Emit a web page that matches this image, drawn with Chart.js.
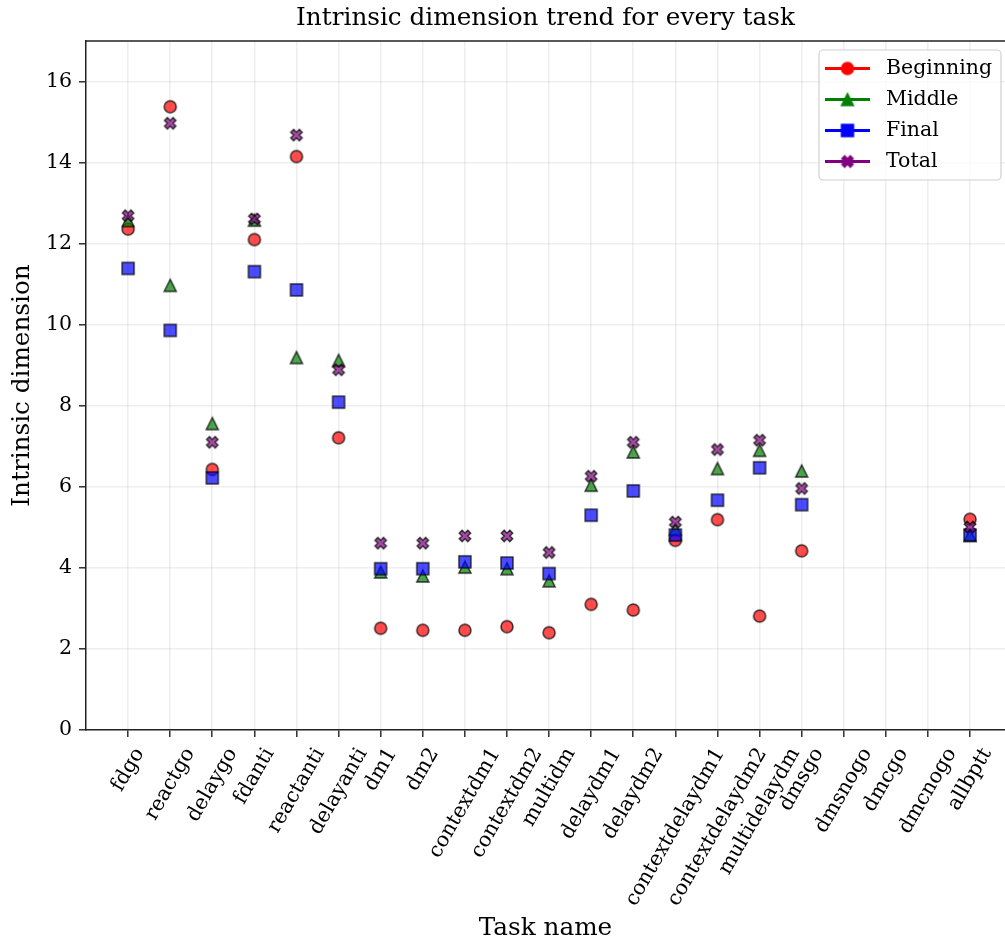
<!DOCTYPE html>
<html><head><meta charset="utf-8">
<script src="https://cdn.jsdelivr.net/npm/chart.js@4.4.1/dist/chart.umd.min.js"></script>
<style>html,body{margin:0;padding:0;background:#fff;overflow:hidden}#wrap{width:1005px;height:945px}</style>
</head><body><div id="wrap"><canvas id="c" width="1005" height="945"></canvas></div>
<script>
const categories = ['fdgo','reactgo','delaygo','fdanti','reactanti','delayanti','dm1','dm2','contextdm1','contextdm2','multidm','delaydm1','delaydm2','contextdelaydm1','contextdelaydm2','multidelaydm','dmsgo','dmsnogo','dmcgo','dmcnogo','allbptt'];
const beginning = [12.36, 15.38, 6.43, 12.10, 14.15, 7.21, 2.51, 2.46, 2.46, 2.55, 2.40, 3.10, 2.96, 4.68, 5.19, 2.81, 4.42, null, null, null, 5.20];
const middle    = [12.57, 10.97, 7.56, 12.58, 9.19, 9.12, 3.90, 3.80, 4.02, 3.98, 3.68, 6.04, 6.86, 4.95, 6.45, 6.90, 6.39, null, null, null, 4.80];
const finalVals = [11.39, 9.86, 6.22, 11.31, 10.86, 8.09, 3.98, 3.98, 4.15, 4.12, 3.86, 5.30, 5.90, 4.81, 5.67, 6.47, 5.56, null, null, null, 4.81];
const total     = [12.69, 14.97, 7.10, 12.61, 14.68, 8.89, 4.61, 4.61, 4.79, 4.79, 4.38, 6.26, 7.10, 5.13, 6.92, 7.15, 5.96, null, null, null, 5.01];
const seriesNames = ['Beginning', 'Middle', 'Final', 'Total'];
const yTicks = [0, 2, 4, 6, 8, 10, 12, 14, 16];

const FONT = '"DejaVu Serif", serif';
const rgbs = ['255,0,0', '0,128,0', '0,0,255', '128,0,128'];
const shapes = ['circle', 'triangle', 'square', 'x'];
const seriesVals = [beginning, middle, finalVals, total];

function markerPath(ctx, shape, cx, cy, s) {
  ctx.beginPath();
  if (shape === 'circle') ctx.arc(cx, cy, s / 2, 0, Math.PI * 2);
  else if (shape === 'triangle') { ctx.moveTo(cx, cy - s / 2); ctx.lineTo(cx - s / 2, cy + s / 2); ctx.lineTo(cx + s / 2, cy + s / 2); ctx.closePath(); }
  else if (shape === 'square') ctx.rect(cx - s / 2, cy - s / 2, s, s);
  else {
    const p = [[-1,-3],[1,-3],[1,-1],[3,-1],[3,1],[1,1],[1,3],[-1,3],[-1,1],[-3,1],[-3,-1],[-1,-1]];
    const c = Math.SQRT1_2, k = s / 6;
    p.forEach(([x, y], i) => {
      const rx = (x * c - y * c) * k, ry = (x * c + y * c) * k;
      if (i) ctx.lineTo(cx + rx, cy + ry); else ctx.moveTo(cx + rx, cy + ry);
    });
    ctx.closePath();
  }
}
function makeMarker(shape, fill, stroke, lw, s) {
  const cv = document.createElement('canvas'); cv.width = 22; cv.height = 22;
  const g = cv.getContext('2d');
  markerPath(g, shape, 11, 11, s);
  g.fillStyle = fill; g.fill();
  if (lw > 0) { g.lineWidth = lw; g.strokeStyle = stroke; g.stroke(); }
  return cv;
}

const datasets = seriesNames.map((name, k) => ({
  label: name,
  data: categories.map((c, i) => ({ x: i, y: seriesVals[k][i] })).filter(p => p.y !== null),
  pointStyle: makeMarker(shapes[k], `rgba(${rgbs[k]},0.7)`, 'rgba(0,0,0,0.75)', 1.5, 12),
  pointRadius: 7,
  showLine: false,
  order: 4 - k
}));

const gridCfg = { color: 'rgba(176,176,176,0.22)', lineWidth: 1.6, tickLength: 7, tickColor: '#222', tickWidth: 1.4 };
const borderCfg = { color: '#222', width: 1.5 };
const TICK_SIZE = 20.5, LABEL_SIZE = 24.7;

const extrasPlugin = {
  id: 'extras',
  afterDatasetsDraw(chart) {
    const ctx = chart.ctx, ca = chart.chartArea;
    ctx.save();
    ctx.strokeStyle = '#222'; ctx.lineWidth = 1.5;
    ctx.beginPath(); ctx.moveTo(ca.left, ca.top); ctx.lineTo(ca.right, ca.top); ctx.stroke();
    const bx = 819, by = 50, bw = 182, bh = 130, r = 4;
    ctx.beginPath();
    ctx.moveTo(bx + r, by); ctx.lineTo(bx + bw - r, by); ctx.arcTo(bx + bw, by, bx + bw, by + r, r);
    ctx.lineTo(bx + bw, by + bh - r); ctx.arcTo(bx + bw, by + bh, bx + bw - r, by + bh, r);
    ctx.lineTo(bx + r, by + bh); ctx.arcTo(bx, by + bh, bx, by + bh - r, r);
    ctx.lineTo(bx, by + r); ctx.arcTo(bx, by, bx + r, by, r); ctx.closePath();
    ctx.fillStyle = 'rgba(255,255,255,0.8)'; ctx.fill();
    ctx.strokeStyle = '#d0d0d0'; ctx.lineWidth = 1.2; ctx.stroke();
    chart.data.datasets.forEach((ds, k) => {
      const y = 68.5 + k * 31;
      ctx.strokeStyle = `rgb(${rgbs[k]})`; ctx.lineWidth = 3;
      ctx.beginPath(); ctx.moveTo(825, y); ctx.lineTo(870, y); ctx.stroke();
      const m = makeMarker(shapes[k], `rgb(${rgbs[k]})`, `rgb(${rgbs[k]})`, 1.4, 12);
      ctx.drawImage(m, 847.5 - 11, y - 11);
      ctx.fillStyle = '#000'; ctx.font = `${TICK_SIZE}px ${FONT}`;
      ctx.textAlign = 'left'; ctx.textBaseline = 'middle';
      ctx.fillText(ds.label, 886, y);
    });
    ctx.restore();
  },
  afterDraw(chart) {
    const ctx = chart.ctx, xs = chart.scales.x;
    ctx.save();
    ctx.font = `${TICK_SIZE}px ${FONT}`;
    ctx.fillStyle = '#000';
    ctx.textAlign = 'center'; ctx.textBaseline = 'middle';
    const ang = 60 * Math.PI / 180, h = 23.5;
    const top = chart.chartArea.bottom + 14;
    categories.forEach((lab, i) => {
      const w = ctx.measureText(lab).width;
      const bh = w * Math.sin(ang) + h * Math.cos(ang);
      const cx = xs.getPixelForValue(i), cy = top + bh / 2;
      ctx.save(); ctx.translate(cx, cy); ctx.rotate(-ang); ctx.fillText(lab, 0, 0); ctx.restore();
    });
    ctx.restore();
  }
};

new Chart(document.getElementById('c'), {
  type: 'scatter',
  data: { datasets },
  plugins: [extrasPlugin],
  options: {
    responsive: false, animation: false, devicePixelRatio: 1, events: [],
    layout: { padding: 0, autoPadding: false },
    plugins: {
      legend: { display: false }, tooltip: { enabled: false },
      title: { display: true, fullSize: false, text: 'Intrinsic dimension trend for every task', color: '#000',
        font: { family: FONT, size: LABEL_SIZE, weight: 'normal' }, padding: { top: 4, bottom: 7.4 } }
    },
    scales: {
      x: {
        type: 'linear', min: -1, max: 20.83,
        afterBuildTicks: s => { s.ticks = categories.map((_, i) => ({ value: i })); },
        afterFit: s => { s.height = 215; },
        ticks: { display: false },
        grid: gridCfg, border: borderCfg,
        title: { display: true, text: 'Task name', color: '#000', font: { family: FONT, size: LABEL_SIZE }, padding: { top: 0, bottom: 1.5 } }
      },
      y: {
        type: 'linear', min: 0, max: 17,
        afterBuildTicks: s => { s.ticks = yTicks.map(v => ({ value: v })); },
        afterFit: s => { s.width = 86; },
        ticks: { color: '#000', font: { family: FONT, size: TICK_SIZE }, padding: 7, callback: v => String(v) },
        grid: gridCfg, border: borderCfg,
        title: { display: true, text: 'Intrinsic dimension', color: '#000', font: { family: FONT, size: LABEL_SIZE }, padding: { top: 7.5, bottom: 0 } }
      }
    }
  }
});
</script>
</body></html>
